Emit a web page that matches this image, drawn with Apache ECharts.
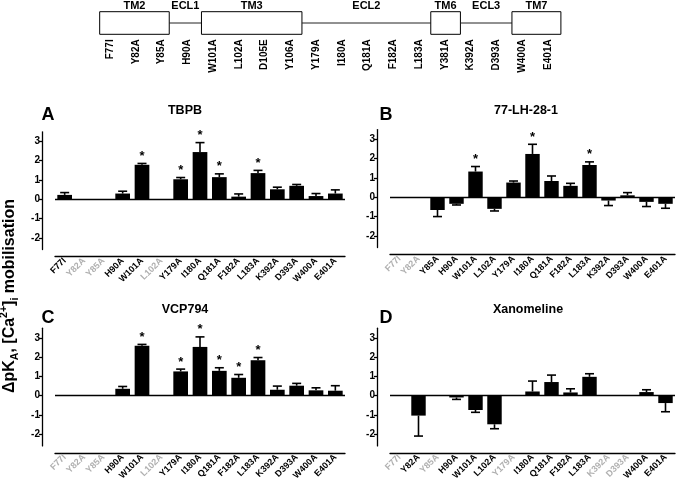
<!DOCTYPE html>
<html><head><meta charset="utf-8">
<script src="https://cdn.jsdelivr.net/npm/echarts@6/dist/echarts.min.js"></script>
<style>html,body{margin:0;padding:0;background:#fff}#c{width:683px;height:494px}</style>
</head><body><div id="c"></div>
<script>
// ---- schematic data ----
const residues = ['F77I','Y82A','Y85A','H90A','W101A','L102A','D105E','Y106A','Y179A','I180A','Q181A','F182A','L183A','Y381A','K392A','D393A','W400A','E401A'];
const regionNames = ['TM2','ECL1','TM3','ECL2','TM6','ECL3','TM7'];
const regionStart = [-0.4, 2.3, 3.55, 7.45, 12.45, 13.6, 15.6];
const regionEnd   = [2.3, 3.55, 7.45, 12.45, 13.6, 15.6, 17.5];
const regionIsTM  = [1, 0, 1, 0, 1, 0, 1];

// ---- panel data ----
const mutants = ['F77I','Y82A','Y85A','H90A','W101A','L102A','Y179A','I180A','Q181A','F182A','L183A','K392A','D393A','W400A','E401A'];
const yTicks = [-2, -1, 0, 1, 2, 3];

const tbpbMean = [0.23, null, null, 0.30, 1.79, null, 1.04, 2.45, 1.15, 0.14, 1.36, 0.52, 0.70, 0.17, 0.30];
const tbpbErr  = [0.12, null, null, 0.12, 0.07, null, 0.09, 0.49, 0.17, 0.14, 0.14, 0.11, 0.07, 0.13, 0.19];
const tbpbSig  = [0, 0, 0, 0, 1, 0, 1, 1, 1, 0, 1, 0, 0, 0, 0];

const lhMean = [null, null, -0.66, -0.34, 1.33, -0.60, 0.76, 2.24, 0.84, 0.59, 1.67, -0.17, 0.10, -0.24, -0.34];
const lhErr  = [null, null, 0.34, 0.06, 0.26, 0.11, 0.08, 0.50, 0.26, 0.13, 0.16, 0.26, 0.14, 0.24, 0.23];
const lhSig  = [0, 0, 0, 0, 1, 0, 0, 1, 0, 0, 1, 0, 0, 0, 0];

const vcpMean = [null, null, null, 0.36, 2.59, null, 1.26, 2.53, 1.29, 0.93, 1.84, 0.31, 0.52, 0.28, 0.26];
const vcpErr  = [null, null, null, 0.12, 0.07, null, 0.12, 0.52, 0.16, 0.17, 0.14, 0.19, 0.12, 0.13, 0.26];
const vcpSig  = [0, 0, 0, 0, 1, 0, 1, 1, 1, 1, 1, 0, 0, 0, 0];

const xanMean = [null, -1.03, null, -0.09, -0.74, -1.48, null, 0.22, 0.71, 0.17, 0.98, null, null, 0.19, -0.38];
const xanErr  = [null, 1.06, null, 0.10, 0.12, 0.23, null, 0.54, 0.36, 0.19, 0.16, null, null, 0.12, 0.45];
const xanSig  = [0, 0, 0, 0, 0, 0, 0, 0, 0, 0, 0, 0, 0, 0, 0];

const panels = [
  {title: 'TBPB',       letter: 'A', mean: tbpbMean, err: tbpbErr, sig: tbpbSig},
  {title: '77-LH-28-1', letter: 'B', mean: lhMean,   err: lhErr,   sig: lhSig},
  {title: 'VCP794',     letter: 'C', mean: vcpMean,  err: vcpErr,  sig: vcpSig},
  {title: 'Xanomeline', letter: 'D', mean: xanMean,  err: xanErr,  sig: xanSig}
];

// layout
const FONT = 'Liberation Sans, Arial, sans-serif';
const grids = [
  {left: 55,  top: 131.8, width: 290, height: 117.7},
  {left: 390, top: 129.6, width: 285, height: 117.9},
  {left: 55,  top: 328.2, width: 290, height: 117.7},
  {left: 390, top: 328.2, width: 285, height: 117.7}
];
const titlePos = [[185, 111], [526, 111], [185, 310], [528, 310]];
const letterPos = [[48, 115], [386, 115], [48, 318], [386, 318]];

const option = {
  animation: false,
  backgroundColor: '#fff',
  grid: [{left: 97.1, top: 11.7, width: 463.8, height: 22.6, outerBoundsMode: 'none'}]
    .concat(grids.map(g => Object.assign({outerBoundsMode: 'none'}, g))),
  xAxis: [], yAxis: [], series: [], graphic: []
};

// schematic axes
option.xAxis.push({
  gridIndex: 0, type: 'category', data: residues, boundaryGap: true,
  axisLine: {show: false}, axisTick: {show: false}, splitLine: {show: false},
  axisLabel: {rotate: 90, interval: 0, margin: 5, fontSize: 10, fontWeight: 'bold', color: '#000', fontFamily: FONT}
});
option.yAxis.push({gridIndex: 0, type: 'value', min: 0, max: 1, show: false});
option.series.push({
  type: 'custom', xAxisIndex: 0, yAxisIndex: 0, clip: false,
  data: regionNames.map((n, i) => [regionStart[i], regionEnd[i], regionIsTM[i], i]),
  renderItem: function (params, api) {
    const c0 = api.coord([0, 0]);
    const bw = api.size([1, 0])[0];
    const x0 = c0[0] + api.value(0) * bw;
    const x1 = c0[0] + api.value(1) * bw;
    const yb = c0[1];
    const yt = api.coord([0, 1])[1];
    const ym = api.coord([0, 0.5])[1];
    const isTM = api.value(2);
    const name = regionNames[api.value(3)];
    const children = [];
    if (isTM) {
      children.push({type: 'rect', shape: {x: x0, y: yt, width: x1 - x0, height: yb - yt},
        style: {fill: '#fff', stroke: '#000', lineWidth: 1}});
    } else {
      children.push({type: 'line', shape: {x1: x0, y1: ym, x2: x1, y2: ym},
        style: {stroke: '#222', lineWidth: 1}});
    }
    children.push({type: 'text', style: {text: name, x: (x0 + x1) / 2, y: yt - 6,
      align: 'center', verticalAlign: 'middle', fontSize: 11, fontWeight: 'bold', fontFamily: FONT, fill: '#000'}});
    return {type: 'group', children: children};
  }
});

// panels
panels.forEach((p, k) => {
  const gi = k + 1;
  option.xAxis.push({
    gridIndex: gi, type: 'category', boundaryGap: true,
    data: mutants.map((m, i) => ({value: m, textStyle: {color: p.mean[i] == null ? '#b0b0b0' : '#000'}})),
    position: 'bottom', offset: 7,
    axisLine: {onZero: false, lineStyle: {color: '#000', width: 1.3}},
    axisTick: {alignWithLabel: true, length: 3, lineStyle: {color: '#000', width: 1.3}},
    splitLine: {show: false},
    axisLabel: {rotate: 45, interval: 0, margin: 3, fontSize: 9, fontWeight: 'bold', fontFamily: FONT}
  });
  option.yAxis.push({
    gridIndex: gi, type: 'value', min: -2.6, max: 3.5, position: 'left', offset: 13,
    axisLine: {show: true, lineStyle: {color: '#000', width: 1.3}},
    axisTick: {show: true, length: 3, customValues: yTicks, lineStyle: {color: '#000', width: 1.3}},
    axisLabel: {customValues: yTicks, margin: 2, fontSize: 10, fontWeight: 'bold', color: '#000', fontFamily: FONT},
    splitLine: {show: false}
  });
  option.series.push({
    type: 'bar', xAxisIndex: k + 1, yAxisIndex: k + 1,
    data: p.mean.map(v => v == null ? '-' : v),
    barWidth: '76%', itemStyle: {color: '#000'},
    markLine: {silent: true, symbol: 'none', label: {show: false},
      lineStyle: {color: '#000', width: 1.3, type: 'solid'}, data: [{yAxis: 0}]}
  });
  option.series.push({
    type: 'custom', xAxisIndex: k + 1, yAxisIndex: k + 1, clip: false, z: 3,
    data: p.mean.map((v, i) => v == null ? null : [i, v, p.err[i], p.sig[i]]).filter(d => d),
    renderItem: function (params, api) {
      const i = api.value(0), v = api.value(1), e = api.value(2), s = api.value(3);
      const end = v >= 0 ? v + e : v - e;
      const p0 = api.coord([i, v]);
      const p1 = api.coord([i, end]);
      const cap = 4.5;
      const children = [
        {type: 'line', shape: {x1: p0[0], y1: p0[1], x2: p1[0], y2: p1[1]}, style: {stroke: '#000', lineWidth: 1.6}},
        {type: 'line', shape: {x1: p1[0] - cap, y1: p1[1], x2: p1[0] + cap, y2: p1[1]}, style: {stroke: '#000', lineWidth: 1.6}}
      ];
      if (s) {
        children.push({type: 'text', style: {text: '*', x: p1[0], y: p1[1] - 7, align: 'center', verticalAlign: 'middle',
          fontSize: 13, fontWeight: 'bold', fontFamily: FONT, fill: '#000'}});
      }
      return {type: 'group', children: children};
    }
  });
  option.graphic.push({type: 'text', x: titlePos[k][0], y: titlePos[k][1],
    style: {text: p.title, align: 'center', verticalAlign: 'middle', fontSize: 12.5, fontWeight: 'bold', fontFamily: FONT, fill: '#000'}});
  option.graphic.push({type: 'text', x: letterPos[k][0], y: letterPos[k][1],
    style: {text: p.letter, align: 'center', verticalAlign: 'middle', fontSize: 18, fontWeight: 'bold', fontFamily: FONT, fill: '#000'}});
});

// shared y-axis name
option.graphic.push({
  type: 'text', x: 10, y: 296, rotation: Math.PI / 2,
  style: {
    text: '{m|ΔpK}{s|A}{m|, [Ca}{p|2+}{m|]}{s|i}{m| mobilisation}',
    align: 'center', verticalAlign: 'middle', fill: '#000',
    rich: {
      m: {fontSize: 16, fontWeight: 'bold', fontFamily: FONT, lineHeight: 22, verticalAlign: 'middle', fill: '#000'},
      s: {fontSize: 10.5, fontWeight: 'bold', fontFamily: FONT, lineHeight: 10, verticalAlign: 'bottom', fill: '#000'},
      p: {fontSize: 10.5, fontWeight: 'bold', fontFamily: FONT, lineHeight: 10, verticalAlign: 'top', fill: '#000'}
    }
  }
});

const chart = echarts.init(document.getElementById('c'), null, {renderer: 'canvas'});
chart.setOption(option);
</script>
</body></html>
